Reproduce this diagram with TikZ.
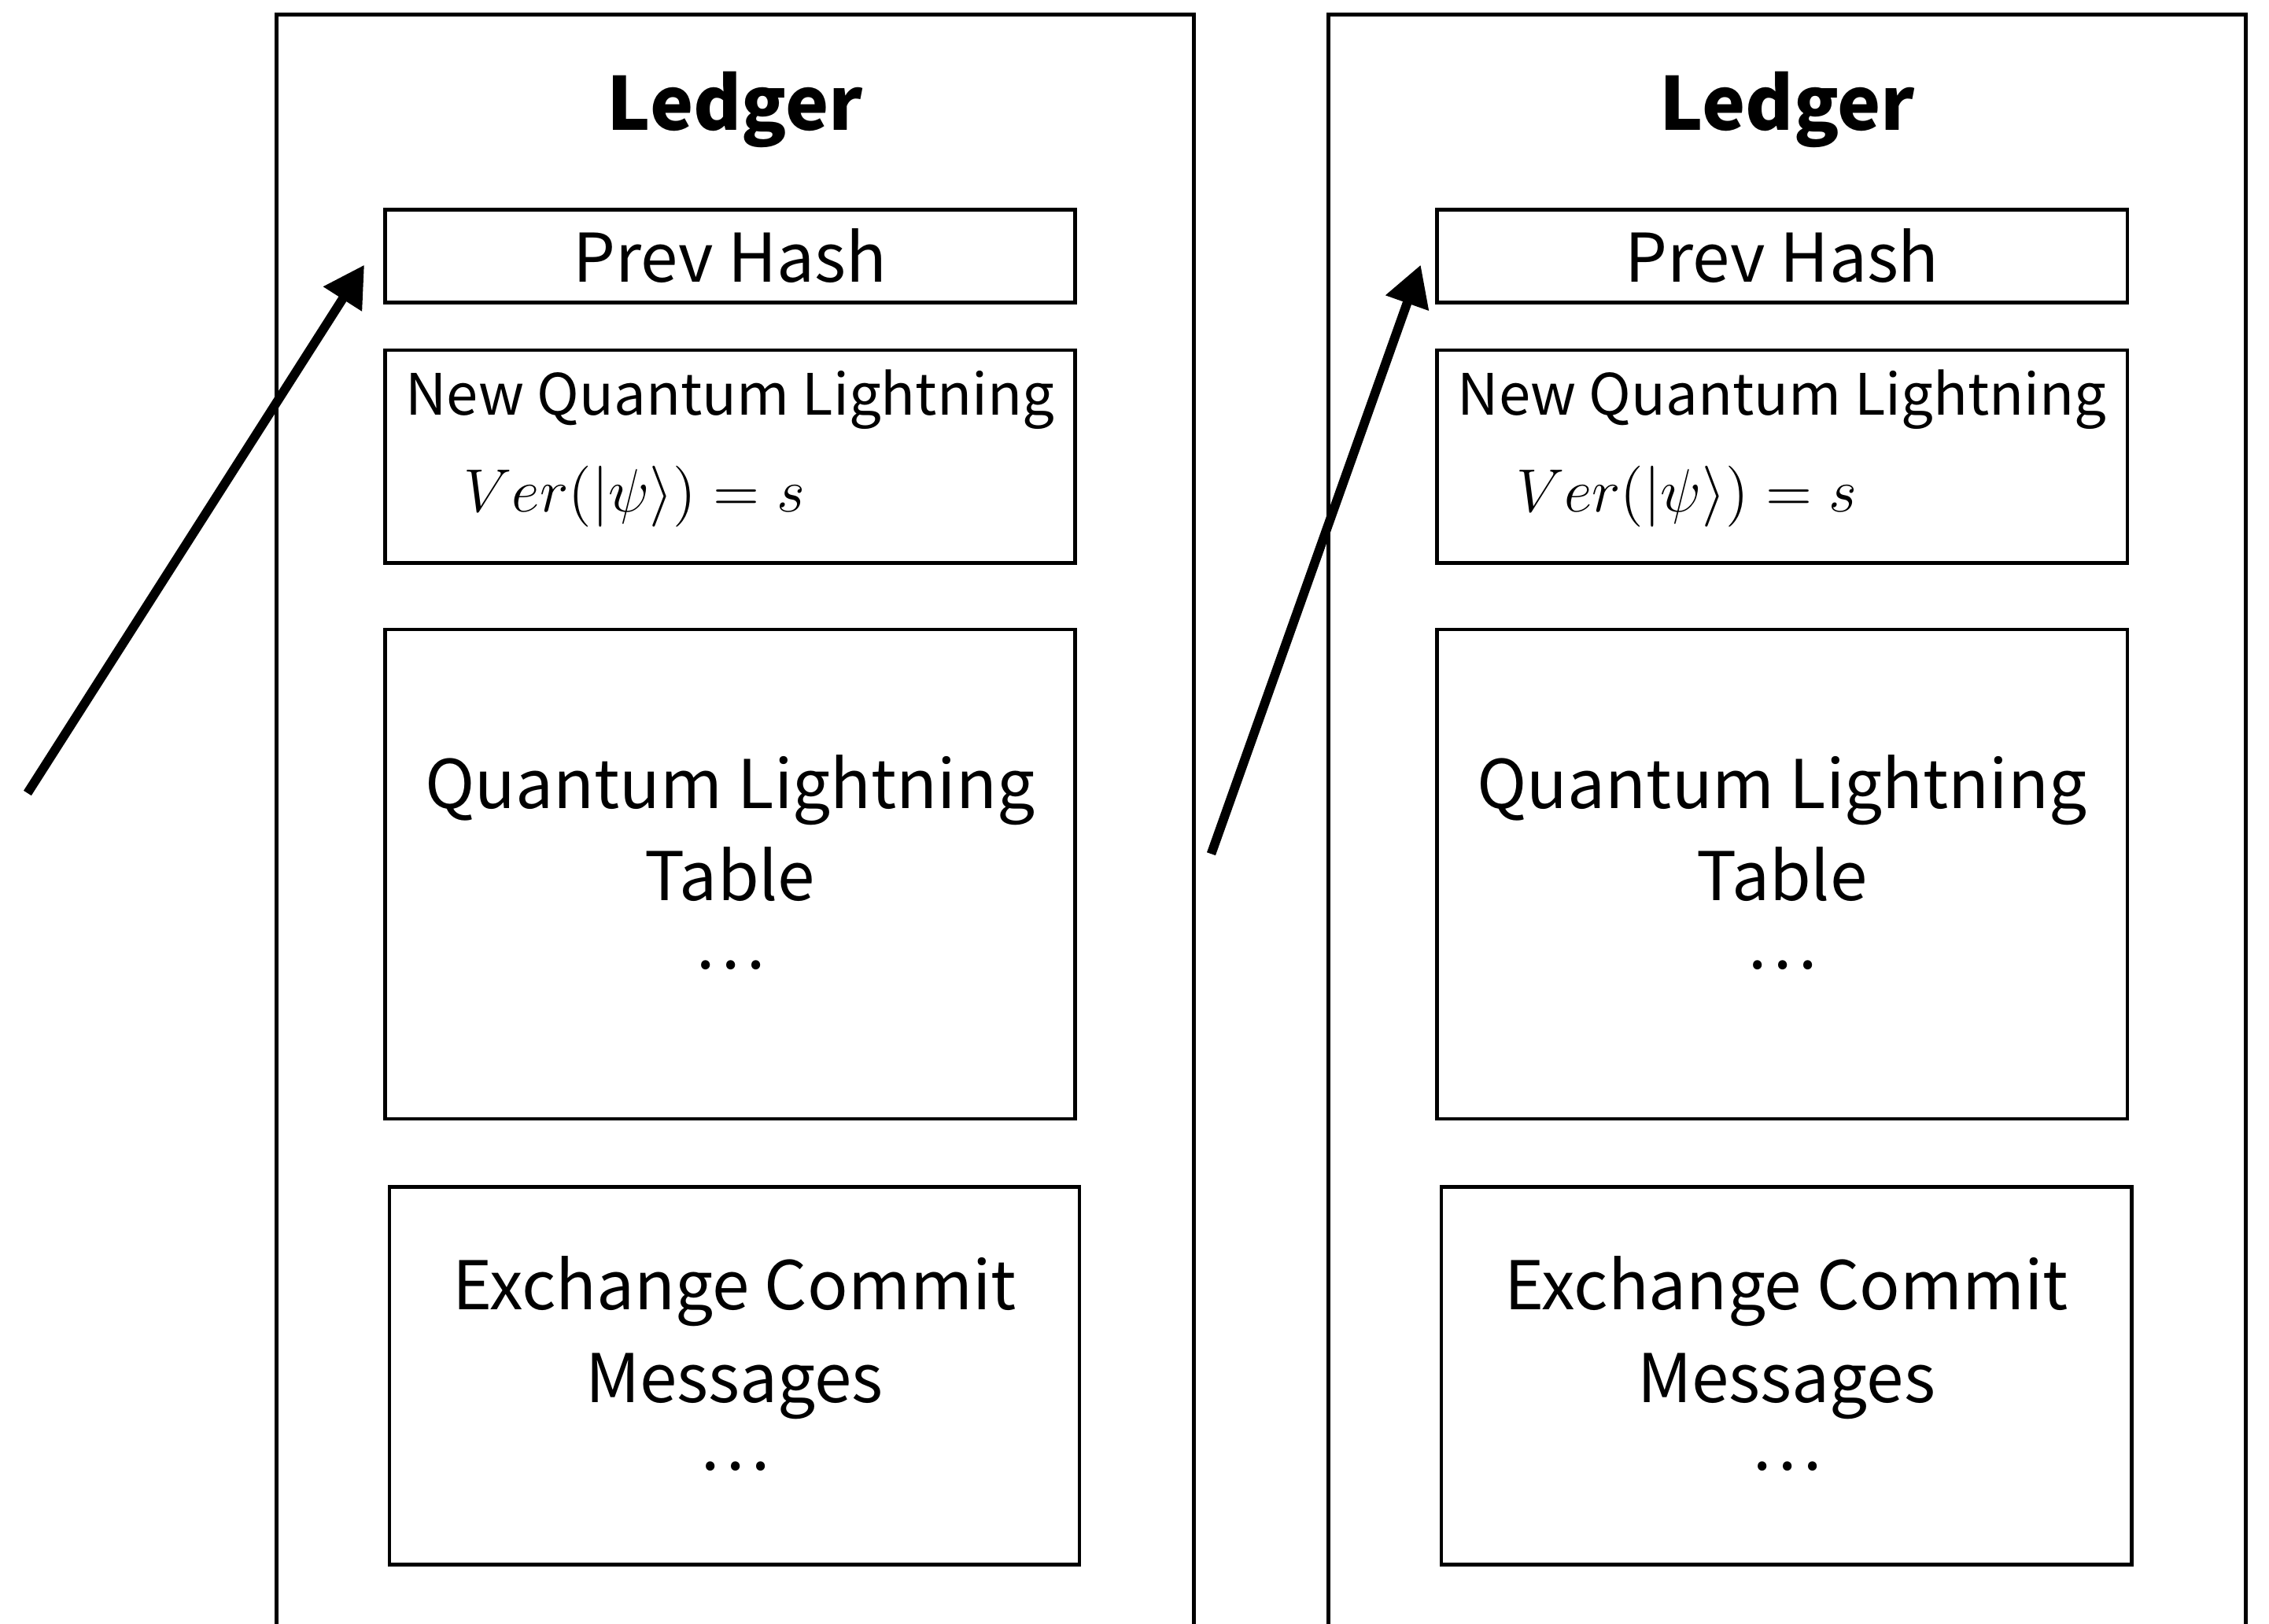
\documentclass[tikz,border=0pt]{standalone}
\usepackage{amsmath}
\usepackage{fontspec}
\setmainfont{Noto Sans CJK JP}
\usetikzlibrary{arrows.meta,positioning}

\newcommand{\moredots}{\raisebox{1.7mm}{…}}

\begin{document}
\begin{tikzpicture}[
  blk/.style={draw=black,line width=0.7pt,minimum width=4.77cm,inner sep=0pt,align=center,
    font=\fontsize{13.2}{18.2}\selectfont},
  link/.style={-{Triangle[length=2.8mm,width=3mm]},line width=1.8pt}]
\useasboundingbox (0,0) rectangle (15.68,-11.22);

% two ledgers side by side
\foreach \i/\dx in {1/0,2/7.27} {
  \draw[line width=0.7pt] (1.91+\dx,-11.4) |- (8.25+\dx,-0.10) -- (8.25+\dx,-11.4);
  \node[font=\bfseries\fontsize{14.4}{18}\selectfont] (title\i) at (5.08+\dx,-0.76) {Ledger};
  \node[blk,minimum height=0.64cm] (prev\i) at (5.045+\dx,-1.77) {Prev Hash};
  \node[blk,minimum height=1.47cm] (newql\i) at (5.045+\dx,-3.155) {};
  \node[font=\fontsize{11.2}{14}\selectfont] (nqlname\i) at (5.045+\dx,-2.76) {New Quantum Lightning};
  \node[anchor=west,inner sep=0pt,font=\fontsize{12.2}{15}\selectfont] (ver\i) at (3.20+\dx,-3.43) {$Ver(|\psi\rangle)=s$};
  \node[blk,minimum height=3.38cm] (table\i) at (5.045+\dx,-6.04) {Quantum Lightning\\Table\\\moredots};
  \node[blk,minimum height=2.61cm] (exch\i) at (5.075+\dx,-9.505) {Exchange Commit\\Messages\\\moredots};
}

% links to previous hash
\coordinate (src1) at (0.19,-5.48);
\coordinate (src2) at (8.37,-5.90);
\draw[link] (src1) -- ([xshift=-1.3mm,yshift=-0.6mm]prev1.west);
\draw[link] (src2) -- ([xshift=-1.0mm,yshift=-0.6mm]prev2.west);
\end{tikzpicture}
\end{document}
